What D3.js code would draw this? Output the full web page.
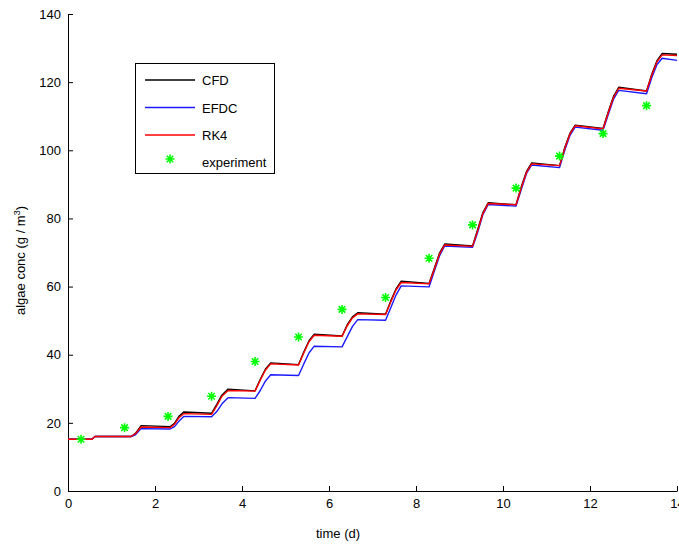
<!DOCTYPE html>
<html><head><meta charset="utf-8">
<script src="https://cdn.jsdelivr.net/npm/d3@7"></script>
<style>html,body{margin:0;padding:0;background:#fff;}svg{display:block;}</style>
</head><body>
<script>
const time = [0, 0.55, 0.62, 1.45, 1.55, 1.68,
 2.35, 2.45, 2.55, 2.66,
 3.3, 3.42, 3.54, 3.68,
 4.3, 4.42, 4.54, 4.66,
 5.3, 5.42, 5.54, 5.66,
 6.3, 6.42, 6.54, 6.66,
 7.3, 7.42, 7.54, 7.66,
 8.3, 8.42, 8.54, 8.66,
 9.3, 9.42, 9.54, 9.66,
 10.3, 10.42, 10.54, 10.66,
 11.3, 11.42, 11.54, 11.66,
 12.3, 12.42, 12.54, 12.66,
 13.3, 13.42, 13.54, 13.66,
 14];
const cfd = [15.2, 15.2, 16.0, 16.0, 16.9, 19.2,
 18.9, 19.9, 21.9, 23.2,
 22.8, 25.4, 28.2, 29.9,
 29.4, 32.8, 35.8, 37.6,
 37.1, 40.8, 44.1, 46.0,
 45.5, 48.8, 51.1, 52.3,
 51.9, 55.8, 59.3, 61.6,
 60.9, 65.3, 69.8, 72.5,
 71.9, 76.8, 81.8, 84.6,
 84.0, 89.3, 93.8, 96.3,
 95.5, 100.8, 105.0, 107.4,
 106.4, 111.3, 115.8, 118.5,
 117.4, 122.3, 126.3, 128.4,
 128.2];
const efdc = [15.2, 15.2, 16.0, 16.0, 16.5, 18.3,
 18.2, 18.9, 20.5, 21.9,
 21.8, 23.3, 25.6, 27.4,
 27.2, 29.5, 32.3, 34.1,
 33.9, 37.3, 40.5, 42.5,
 42.3, 45.3, 48.3, 50.3,
 50.1, 53.8, 57.5, 60.2,
 59.9, 64.5, 69.0, 71.9,
 71.5, 76.0, 81.2, 84.1,
 83.6, 88.5, 93.2, 95.7,
 94.9, 100.0, 104.4, 106.8,
 105.9, 110.5, 115.0, 117.6,
 116.6, 121.3, 125.2, 127.0,
 126.4];
const rk4 = [15.2, 15.2, 16.0, 16.0, 16.8, 18.8,
 18.6, 19.6, 21.5, 22.7,
 22.5, 25.0, 27.8, 29.5,
 29.3, 32.5, 35.5, 37.3,
 37.0, 40.5, 43.8, 45.7,
 45.4, 48.5, 50.8, 52.0,
 51.8, 55.5, 59.0, 61.2,
 60.8, 65.0, 69.5, 72.2,
 71.8, 76.5, 81.5, 84.4,
 84.0, 89.0, 93.5, 96.0,
 95.5, 100.5, 104.8, 107.2,
 106.3, 111.0, 115.5, 118.2,
 117.4, 122.0, 126.0, 128.0,
 127.8];
const expTime = [0.3, 1.3, 2.3, 3.3, 4.3, 5.3, 6.3, 7.3, 8.3, 9.3, 10.3, 11.3, 12.3, 13.3];
const expValue = [15.2, 18.6, 21.9, 27.8, 38.0, 45.2, 53.3, 56.8, 68.3, 78.1, 88.9, 98.3, 104.9, 113.1];
const xTicks = [0, 2, 4, 6, 8, 10, 12, 14];
const yTicks = [0, 20, 40, 60, 80, 100, 120, 140];
const seriesNames = ["CFD", "EFDC", "RK4", "experiment"];
const seriesColors = ["#000000", "#1a1aff", "#ff0000", "#00ff00"];

const W = 679, H = 544;
const FONT = "'Liberation Sans', Arial, Helvetica, sans-serif";
const FS = 13;
const svg = d3.select("body").append("svg").attr("width", W).attr("height", H);
svg.append("rect").attr("width", W).attr("height", H).attr("fill", "#fff");

const x = d3.scaleLinear().domain([0, 14]).range([68, 677]);
const y = d3.scaleLinear().domain([0, 140]).range([491, 14]);

// axes
const gx = svg.append("g").attr("transform", `translate(0,${y(0)})`)
  .call(d3.axisBottom(x).tickValues(xTicks).tickFormat(d3.format("d")).tickSizeInner(-5).tickSizeOuter(0).tickPadding(8));
const gy = svg.append("g").attr("transform", `translate(${x(0)},0)`)
  .call(d3.axisLeft(y).tickValues(yTicks).tickFormat(d3.format("d")).tickSizeInner(-5).tickSizeOuter(0).tickPadding(7));
[gx, gy].forEach(g => {
  g.attr("font-family", FONT).attr("font-size", FS);
  g.selectAll("text").attr("fill", "#000");
  g.selectAll("line").attr("stroke", "#000");
  g.select(".domain").attr("stroke", "#000");
});

// axis labels
svg.append("text").attr("x", 338).attr("y", 538)
  .attr("text-anchor", "middle").attr("font-family", FONT).attr("font-size", FS)
  .text("time (d)");
const yl = svg.append("text").attr("transform", `translate(25,${(y(0) + y(140)) / 2 + 8}) rotate(-90)`)
  .attr("text-anchor", "middle").attr("font-family", FONT).attr("font-size", FS);
yl.append("tspan").text("algae conc (g / m");
yl.append("tspan").attr("font-size", 9).attr("dy", -5).text("3");
yl.append("tspan").attr("dy", 5).text(")");

// lines
const series = [cfd, efdc, rk4];
const line = d3.line().x((d, i) => x(time[i])).y(d => y(d));
series.forEach((s, k) => {
  svg.append("path").datum(s).attr("d", line).attr("fill", "none")
    .attr("stroke", seriesColors[k]).attr("stroke-width", 1.4).attr("stroke-linejoin", "round");
});

// star marker
function starPath(r) {
  const p = d3.path();
  const q = r * 0.72;
  p.moveTo(-r, 0); p.lineTo(r, 0);
  p.moveTo(0, -r); p.lineTo(0, r);
  p.moveTo(-q, -q); p.lineTo(q, q);
  p.moveTo(-q, q); p.lineTo(q, -q);
  return p.toString();
}
svg.append("g").selectAll("path").data(expTime).join("path")
  .attr("transform", (d, i) => `translate(${x(d)},${y(expValue[i])})`)
  .attr("d", starPath(4.5)).attr("fill", "none")
  .attr("stroke", seriesColors[3]).attr("stroke-width", 1.6);

// legend
const lg = svg.append("g");
lg.append("rect").attr("x", 135.5).attr("y", 63.5).attr("width", 139).attr("height", 110)
  .attr("fill", "#fff").attr("stroke", "#000").attr("stroke-width", 1);
const rowY = [80, 107.5, 135, 162];
seriesNames.forEach((name, k) => {
  if (k < 3) {
    lg.append("line").attr("x1", 145).attr("x2", 195).attr("y1", rowY[k]).attr("y2", rowY[k])
      .attr("stroke", seriesColors[k]).attr("stroke-width", 1.4);
  } else {
    lg.append("path").attr("transform", `translate(170,${rowY[k] - 3})`).attr("d", starPath(4.5))
      .attr("fill", "none").attr("stroke", seriesColors[k]).attr("stroke-width", 1.6);
  }
  lg.append("text").attr("x", 202).attr("y", rowY[k] + 5).attr("font-family", FONT)
    .attr("font-size", FS).attr("fill", "#000").text(name);
});
</script>
</body></html>
